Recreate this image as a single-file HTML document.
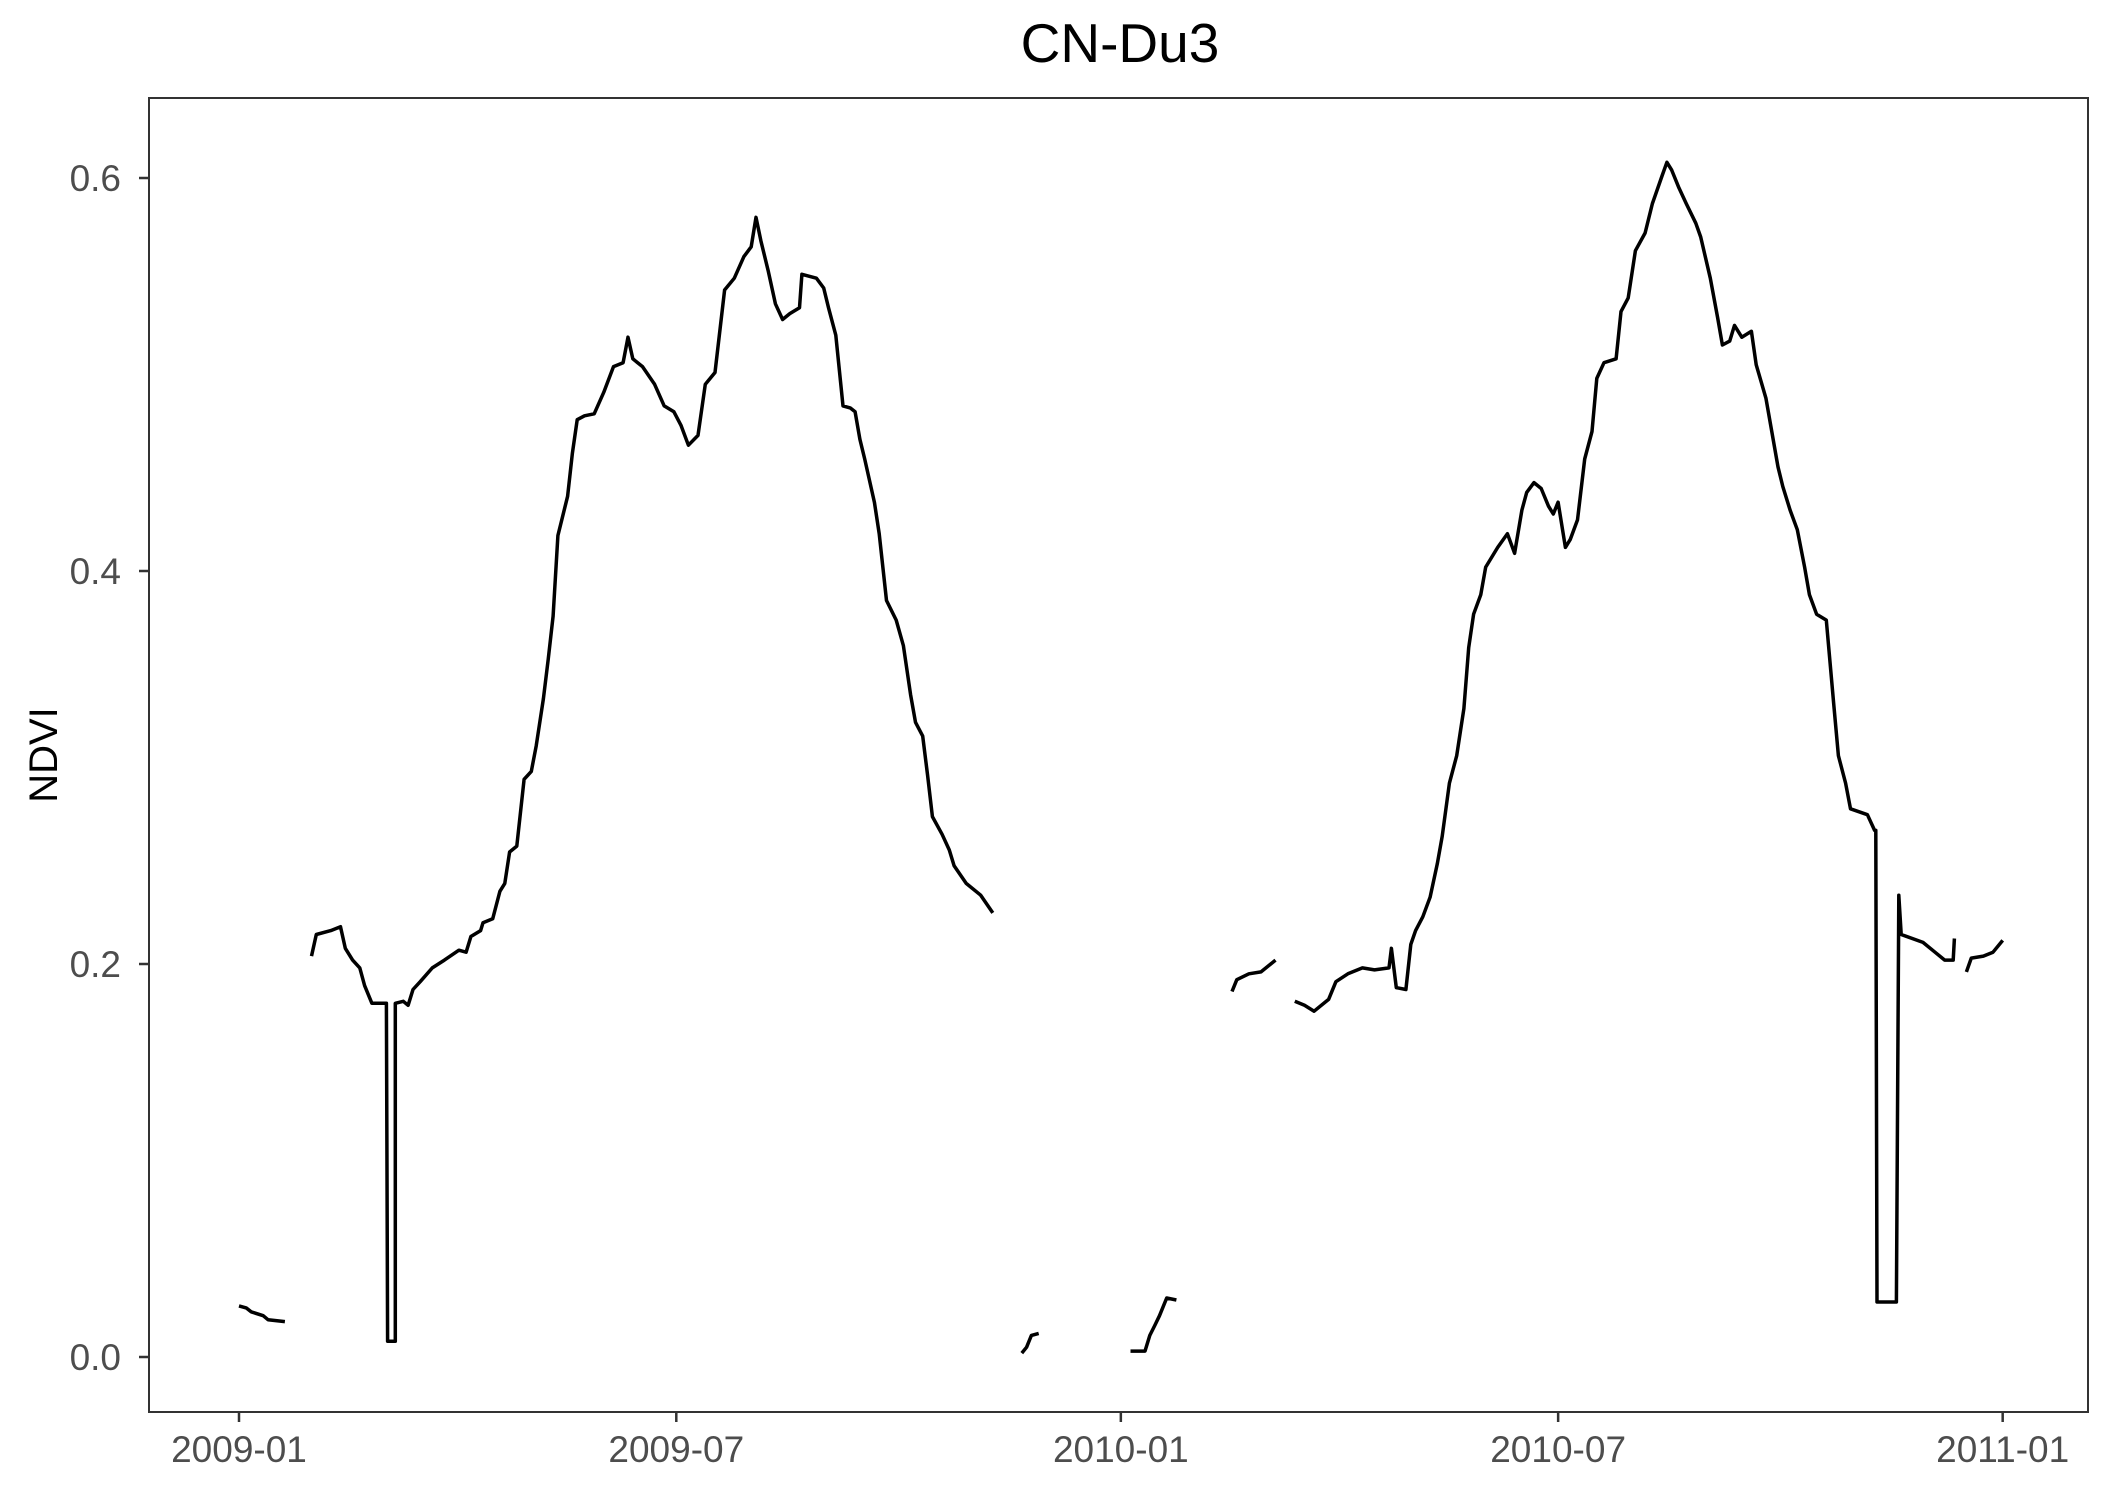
<!DOCTYPE html>
<html><head><meta charset="utf-8"><style>
html,body{margin:0;padding:0;background:#fff;}
svg{display:block;font-family:"Liberation Sans",Arial,sans-serif;}
</style></head><body>
<svg id="chart" width="2115" height="1493" viewBox="0 0 2115 1493" xmlns="http://www.w3.org/2000/svg">
<rect width="2115" height="1493" fill="#fff"/>
<text x="1120" y="62" font-size="55" text-anchor="middle" fill="#000">CN-Du3</text>
<text transform="translate(57,755) rotate(-90)" font-size="40" text-anchor="middle" fill="#000">NDVI</text>
<g id="yaxis"></g>
<g id="xaxis"></g>
<g id="series"></g>
<rect x="149" y="98" width="1939" height="1314" fill="none" stroke="#333" stroke-width="2"/>
</svg>
<script>
const yTicks=[0,0.2,0.4,0.6];
const yTickLabels=["0.0","0.2","0.4","0.6"];
const xTickDays=[0,181,365,546,730];
const xTickLabels=["2009-01","2009-07","2010-01","2010-07","2011-01"];
// days since 2009-01-01, NDVI values; null = gap
const days=[0,3,5,10,12,19,null,
30,32,38,42,44,47,50,52,55,61,61.5,64.7,64.7,68,70,72,75,80,85,91,94,96,100,101,105,108,110,112,115,118,121,123,126,128,130,132,136,138,140,143,147,151,155,159,161,163,167,172,176,180,183,186,190,193,197,201,205,209,212,214,216,219,222,225,228,232,233,239,242,244,247,250,253,255,257,259,263,265,268,272,275,278,280,283,285,287,291,294,296,301,307,312,null,
324,326,328,331,null,
369,375,377,379,381,384,388,null,
411,413,418,423,429,null,
437,441,445,451,454,459,465,470,476,477,479,483,485,487,490,493,496,498,501,504,507,509,511,514,516,521,525,528,531,533,536,539,542,544,546,549,551,554,557,560,562,565,570,572,575,578,582,585,589,591,593,596,599,603,605,609,612,614,617,619,622,626,628,632,637,639,642,645,648,650,653,657,660,662,665,667,674,677,677.5,678,685,686,687,688,697,702,706,709.5,710,null,
715,717,722,726,730];
const ndvi=[0.026,0.025,0.023,0.021,0.019,0.018,null,
0.204,0.215,0.217,0.219,0.208,0.202,0.198,0.189,0.180,0.180,0.008,0.008,0.180,0.181,0.179,0.187,0.191,0.198,0.202,0.207,0.206,0.214,0.217,0.221,0.223,0.237,0.241,0.257,0.260,0.294,0.298,0.311,0.335,0.355,0.377,0.418,0.438,0.460,0.477,0.479,0.480,0.491,0.504,0.506,0.519,0.508,0.504,0.495,0.484,0.481,0.474,0.464,0.469,0.495,0.501,0.543,0.549,0.560,0.565,0.580,0.568,0.553,0.536,0.528,0.531,0.534,0.551,0.549,0.544,0.534,0.520,0.484,0.483,0.481,0.467,0.457,0.435,0.419,0.385,0.375,0.362,0.337,0.323,0.316,0.296,0.275,0.266,0.258,0.250,0.241,0.235,0.226,null,
0.002,0.005,0.011,0.012,null,
0.003,0.003,0.011,0.016,0.021,0.030,0.029,null,
0.186,0.192,0.195,0.196,0.202,null,
0.181,0.179,0.176,0.182,0.191,0.195,0.198,0.197,0.198,0.208,0.188,0.187,0.210,0.217,0.224,0.234,0.251,0.265,0.292,0.306,0.330,0.361,0.378,0.388,0.402,0.412,0.419,0.409,0.431,0.440,0.445,0.442,0.433,0.429,0.435,0.412,0.416,0.426,0.457,0.471,0.498,0.506,0.508,0.532,0.539,0.563,0.572,0.587,0.601,0.608,0.604,0.595,0.587,0.577,0.570,0.549,0.529,0.515,0.517,0.525,0.519,0.522,0.505,0.488,0.453,0.443,0.431,0.421,0.402,0.388,0.378,0.375,0.333,0.306,0.292,0.279,0.276,0.268,0.268,0.028,0.028,0.028,0.235,0.215,0.211,0.206,0.202,0.202,0.213,null,
0.196,0.203,0.204,0.206,0.212];

const NS="http://www.w3.org/2000/svg";
function xS(d){return 239+d*2.416;}
function yS(v){return 1357-v*1965;}
const ya=document.getElementById('yaxis');
yTicks.forEach((t,i)=>{
  const y=yS(t);
  const l=document.createElementNS(NS,'line');
  l.setAttribute('x1',139);l.setAttribute('x2',149);l.setAttribute('y1',y);l.setAttribute('y2',y);
  l.setAttribute('stroke','#333');l.setAttribute('stroke-width',2.5);
  
  
  ya.appendChild(l);
  const tx=document.createElementNS(NS,'text');
  tx.setAttribute('x',121);tx.setAttribute('y',y+13);tx.setAttribute('text-anchor','end');
  tx.setAttribute('font-size',37);tx.setAttribute('fill','#4d4d4d');
  tx.textContent=yTickLabels[i];
  
  
  ya.appendChild(tx);
});
const xa=document.getElementById('xaxis');
xTickDays.forEach((d,i)=>{
  const x=xS(d);
  const l=document.createElementNS(NS,'line');
  l.setAttribute('x1',x);l.setAttribute('x2',x);l.setAttribute('y1',1412);l.setAttribute('y2',1422);
  l.setAttribute('stroke','#333');l.setAttribute('stroke-width',2.5);
  
  
  xa.appendChild(l);
  const tx=document.createElementNS(NS,'text');
  tx.setAttribute('x',x);tx.setAttribute('y',1462);tx.setAttribute('text-anchor','middle');
  tx.setAttribute('font-size',37);tx.setAttribute('fill','#4d4d4d');
  tx.textContent=xTickLabels[i];
  
  
  xa.appendChild(tx);
});
let dstr='',pen=false;
for(let i=0;i<days.length;i++){
  if(days[i]===null||ndvi[i]===null){pen=false;continue;}
  dstr+=(pen?'L':'M')+xS(days[i]).toFixed(1)+' '+yS(ndvi[i]).toFixed(1)+' ';
  pen=true;
}
const p=document.createElementNS(NS,'path');
p.setAttribute('d',dstr);p.setAttribute('fill','none');p.setAttribute('stroke','#000');
p.setAttribute('stroke-width',3.5);p.setAttribute('stroke-linejoin','round');


document.getElementById('series').appendChild(p);
</script>
</body></html>
